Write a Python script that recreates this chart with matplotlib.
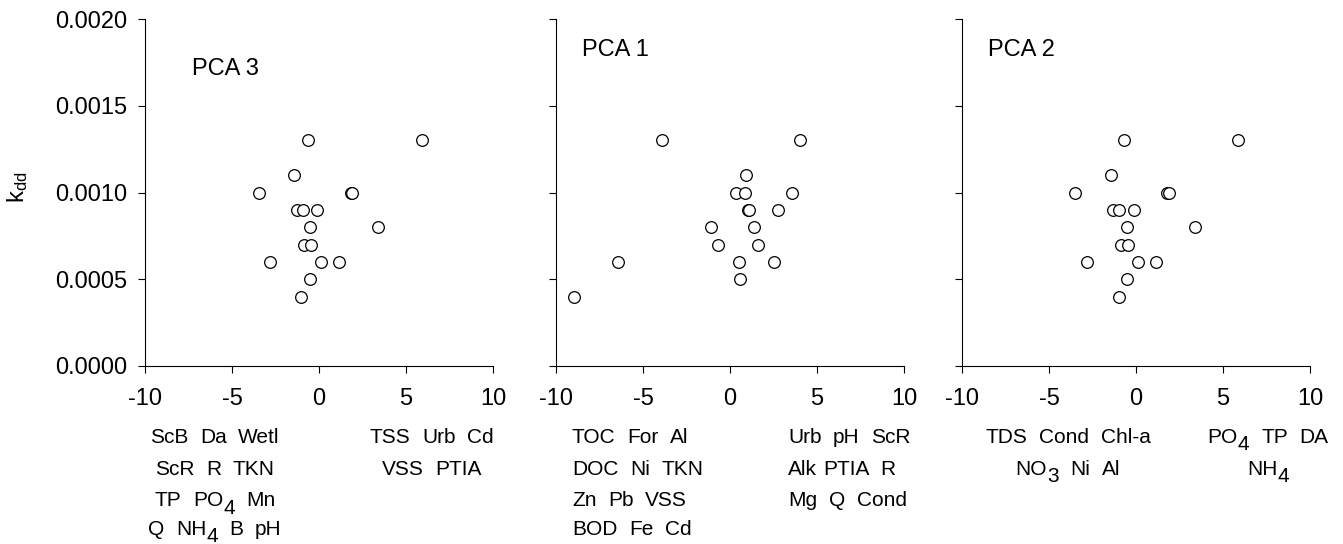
import matplotlib
matplotlib.use("Agg")
import matplotlib.pyplot as plt

plt.rcParams['font.family'] = ['Liberation Sans', 'DejaVu Sans']
plt.rcParams['mathtext.fontset'] = 'custom'
plt.rcParams['mathtext.rm'] = 'Liberation Sans'
plt.rcParams['mathtext.it'] = 'Liberation Sans:italic'
plt.rcParams['mathtext.bf'] = 'Liberation Sans:bold'
plt.rcParams['mathtext.default'] = 'regular'

# kdd for the 18 sites (same in every panel)
kdd = [0.0013, 0.0013, 0.0011, 0.0010, 0.0010, 0.0010, 0.0009, 0.0009, 0.0009,
       0.0008, 0.0008, 0.0007, 0.0007, 0.0006, 0.0006, 0.0006, 0.0005, 0.0004]

# PCA scores
pca3 = [-0.66, 5.93, -1.44, -3.46, 1.82, 1.92, -1.29, -0.94, -0.10,
        -0.52, 3.40, -0.88, -0.44, -2.80, 0.13, 1.17, -0.52, -1.02]
pca1 = [-3.93, 4.04, 0.94, 0.34, 0.88, 3.54, 1.02, 1.07, 2.78,
        -1.09, 1.36, -0.71, 1.63, -6.44, 0.50, 2.51, 0.56, -8.98]
pca2 = [-0.68, 5.88, -1.46, -3.48, 1.80, 1.89, -1.31, -0.98, -0.14,
        -0.52, 3.37, -0.89, -0.47, -2.79, 0.11, 1.16, -0.52, -1.00]

titles = ["PCA 3", "PCA 1", "PCA 2"]
xticks = [-10, -5, 0, 5, 10]
yticks = [0.0, 0.0005, 0.0010, 0.0015, 0.0020]

# loadings listed under each axis (negative side, positive side)
# "_" marks a lowered (subscript) part
pca3_neg = ["ScB  Da  Wetl", "ScR  R  TKN", "TP  PO_4  Mn", "Q  NH_4  B  pH"]
pca3_pos = ["TSS  Urb  Cd", "VSS  PTIA"]
pca1_neg = ["TOC  For  Al", "DOC  Ni  TKN", "Zn  Pb  VSS", "BOD  Fe  Cd"]
pca1_pos = ["Urb  pH  ScR", "Alk PTIA  R", "Mg  Q  Cond"]
pca2_neg = ["TDS  Cond  Chl-a", "NO_3  Ni  Al"]
pca2_pos = ["PO_4  TP  DA", "NH_4"]

W, H = 1343, 544
fs = 17
fs_small = 15
fig = plt.figure(figsize=(W / 100, H / 100), dpi=100)
renderer = fig.canvas.get_renderer()

lefts = [145, 556, 962]
xs = [pca3, pca1, pca2]
title_pos = [(-7.3, 0.00171), (-8.5, 0.00182), (-8.5, 0.00182)]

for i in range(3):
    ax = fig.add_axes([lefts[i] / W, 1 - 366 / H, 348 / W, 347 / H])
    ax.plot(xs[i], kdd, 'o', ms=8.4, mfc='white', mec='black', mew=0.9,
            clip_on=False)
    ax.set_xlim(-10, 10)
    ax.set_ylim(0, 0.002)
    ax.set_xticks(xticks)
    ax.set_xticklabels([str(t) for t in xticks])
    ax.set_yticks(yticks)
    if i == 0:
        ax.set_yticklabels(["%.4f" % t for t in yticks])
    else:
        ax.set_yticklabels([])
    for s in ['top', 'right']:
        ax.spines[s].set_visible(False)
    for s in ['left', 'bottom']:
        ax.spines[s].set_linewidth(0.8)
    ax.tick_params(axis='both', direction='out', length=5, width=0.8,
                   labelsize=fs)
    ax.tick_params(axis='x', pad=11)
    ax.tick_params(axis='y', pad=8)
    ax.text(title_pos[i][0], title_pos[i][1], titles[i], fontsize=fs,
            ha='left', va='center')

fig.text(18 / W, 1 - 187 / H, "k$_{dd}$", rotation=90, fontsize=fs,
         ha='center', va='center')

row_base = [443, 475, 506, 535]
space_px = 0.278 * fs_small * 100 / 72
sub_drop = 7.5


def width_px(s):
    t = fig.text(0, 0, s, fontsize=fs_small)
    w = t.get_window_extent(renderer).width
    t.remove()
    return w


def rich_line(line, x, y, ha):
    # split into words, remember the number of spaces before each word
    pieces = []
    cur = 0.0
    nsp = 0
    first = True
    for w in line.split(' '):
        if w == '':
            nsp += 1
            continue
        if not first:
            cur += (nsp + 1) * space_px
        first = False
        nsp = 0
        if '_' in w:
            base, sub = w.split('_')
            pieces.append((base, cur, 0))
            cur += width_px(base)
            pieces.append((sub, cur, sub_drop))
            cur += width_px(sub)
        else:
            pieces.append((w, cur, 0))
            cur += width_px(w)
    x0 = x if ha == 'left' else x - cur / 2
    for s, off, dy in pieces:
        fig.text((x0 + off) / W, 1 - (y + dy) / H, s, fontsize=fs_small,
                 ha='left', va='baseline')


def put_block(lines, x, ha):
    for j, s in enumerate(lines):
        rich_line(s, x, row_base[j], ha)


put_block(pca3_neg, 215, 'center')
put_block(pca3_pos, 432, 'center')
put_block(pca1_neg, 572, 'left')
put_block(pca1_pos, 788, 'left')
put_block(pca2_neg, 1068, 'center')
put_block(pca2_pos, 1268, 'center')

fig.savefig("out.png", dpi=100)
